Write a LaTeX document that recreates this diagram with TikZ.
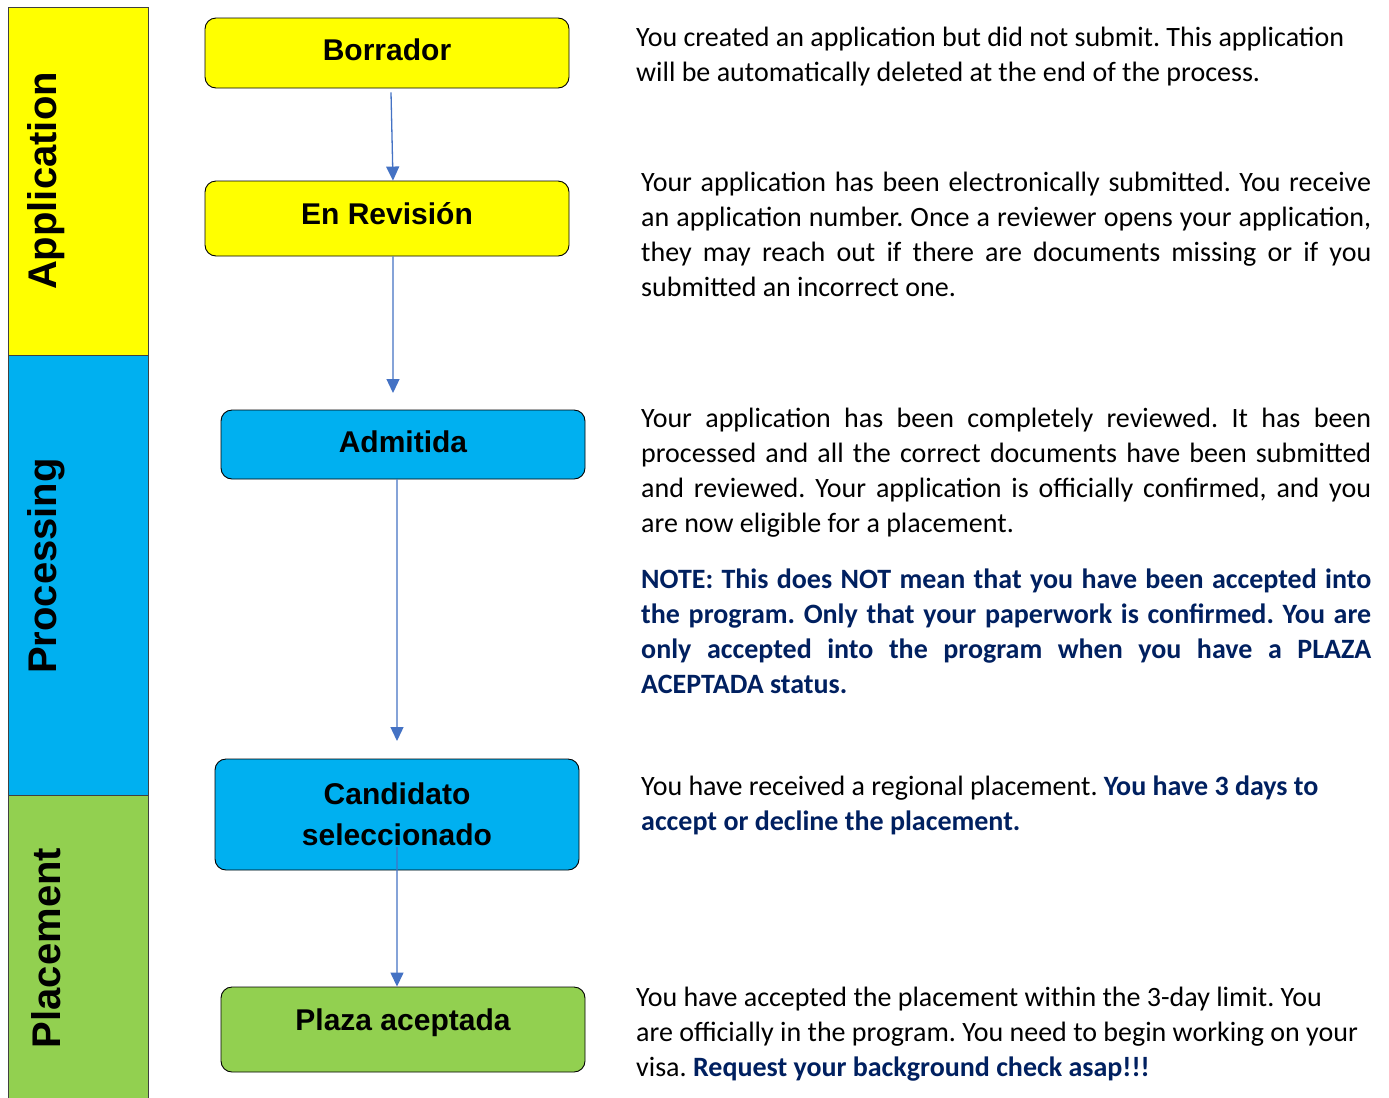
\documentclass[tikz,border=0pt]{standalone}
\usepackage{fontspec}
\setmainfont{Carlito}
\newfontfamily\boxfont{Liberation Sans}
\usetikzlibrary{arrows.meta}
\definecolor{yel}{HTML}{FFFF00}
\definecolor{cyn}{HTML}{00B0F0}
\definecolor{grn}{HTML}{92D050}
\definecolor{navy}{HTML}{002060}
\definecolor{arr}{HTML}{4472C4}
\frenchspacing
\newcommand\jl[1]{\makebox[730bp][s]{#1}}
\newcommand\hl[1]{{\bfseries\color{navy}#1}}
\tikzset{
  band/.style={draw=black!75, line width=0.8bp, minimum width=140bp, inner sep=0pt},
  vlabel/.style={rotate=90, font=\boxfont\bfseries\fontsize{40bp}{44bp}\selectfont, inner sep=0pt},
  stage/.style={draw=black, line width=0.9bp, rounded corners=11bp, minimum width=364bp,
    inner sep=0pt, align=center, font=\boxfont\bfseries\fontsize{30bp}{41bp}\selectfont},
  flow/.style={draw=arr, line width=1.3bp, -{Triangle[width=13bp,length=14bp]}},
  para/.style={anchor=north west, inner sep=0pt, align=left, font=\fontsize{28bp}{35bp}\selectfont}
}
\begin{document}
\begin{tikzpicture}[x=1bp,y=-1bp]
\useasboundingbox (0,0) rectangle (1389,1097);
\fill[white] (0,0) rectangle (1389,1097);

% phase bands
\node[band, fill=yel, minimum height=348bp] (bandA) at (78,181) {};
\node[band, fill=cyn, minimum height=440bp] (bandP) at (78,575) {};
\node[band, fill=grn, minimum height=307bp] (bandL) at (78,948.5) {};
\node[vlabel] (labA) at (46,181) {Application};
\node[vlabel] (labP) at (46,566) {Processing};
\node[vlabel] (labL) at (46,948) {Placement};

% stages
\node[stage, fill=yel, minimum height=70bp, text depth=7bp] (bor) at (387,53) {Borrador};
\node[stage, fill=yel, minimum height=75bp, text depth=10bp] (enr) at (387,218.5) {En Revisión};
\node[stage, fill=cyn, minimum height=69bp, text depth=6bp] (adm) at (403,444.5) {Admitida};
\node[stage, fill=cyn, minimum height=111bp] (cand) at (397,814.5) {Candidato\\seleccionado};
\node[stage, fill=grn, minimum height=85bp, text depth=20bp] (plz) at (403,1029.5) {Plaza aceptada};

% connectors
\coordinate (e2) at (393,393);
\coordinate (e3) at (397,741);
\coordinate (s4) at (397,847);
\draw[flow] ([xshift=4bp,yshift=-4bp]bor.south) -- ([xshift=6bp]enr.north);
\draw[flow] ([xshift=6bp]enr.south) -- (e2);
\draw[flow] ([xshift=-6bp]adm.south) -- (e3);
\draw[flow] (s4) -- ([xshift=-6bp]plz.north);

% descriptions
\node[para] (t1) at (636,27) {You created an application but did not submit. This application\\
will be automatically deleted at the end of the process.};
\node[para] (t2) at (641,172) {\jl{Your application has been electronically submitted. You receive}\\
\jl{an application number. Once a reviewer opens your application,}\\
\jl{they may reach out if there are documents missing or if you}\\
submitted an incorrect one.};
\node[para] (t3) at (641,408) {\jl{Your application has been completely reviewed. It has been}\\
\jl{processed and all the correct documents have been submitted}\\
\jl{and reviewed. Your application is officially confirmed, and you}\\
are now eligible for a placement.};
\node[para, font=\bfseries\fontsize{28bp}{35bp}\selectfont, text=navy] (t4) at (641,569) {\jl{NOTE: This does NOT mean that you have been accepted into}\\
\jl{the program. Only that your paperwork is confirmed. You are}\\
\jl{only accepted into the program when you have a PLAZA}\\
ACEPTADA status.};
\node[para] (t5) at (641,776) {You have received a regional placement. \hl{You have 3 days to}\\
\hl{accept or decline the placement.}};
\node[para] (t6) at (636,987) {You have accepted the placement within the 3-day limit. You\\
are officially in the program. You need to begin working on your\\
visa. \hl{Request your background check asap!!!}};
\end{tikzpicture}
\end{document}
